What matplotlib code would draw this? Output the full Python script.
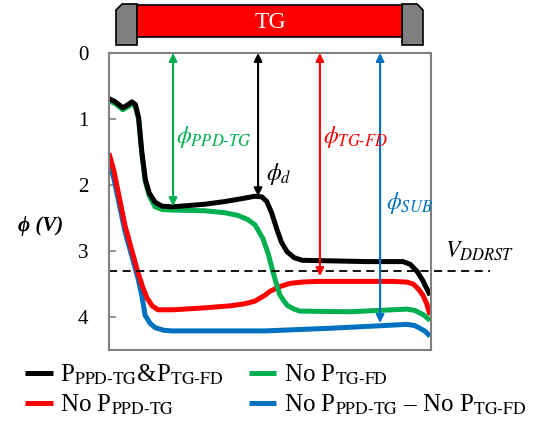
import numpy as np
import matplotlib.pyplot as plt
from matplotlib.patches import Polygon, Rectangle

plt.rcParams['font.family'] = ['Liberation Serif', 'DejaVu Serif']
plt.rcParams['mathtext.fontset'] = 'stix'

# position along the channel (arb. units, 0..100) and potential phi (V)
x_both = [0, 2, 4.3, 6, 7.1, 8.2, 9.2, 10.2, 11.3, 12.5, 14.3, 16.5, 19.6, 25, 30, 36, 42,
          45.3, 47.5, 49, 50.5, 52, 53.5, 55.3, 57.5, 60, 70, 80, 88, 91.3, 93.5, 95.7, 97.5, 99.7]
phi_both = [0.69, 0.74, 0.83, 0.78, 0.74, 0.78, 0.98, 1.5, 1.92, 2.12, 2.26, 2.32, 2.33, 2.31,
            2.29, 2.25, 2.2, 2.17, 2.18, 2.25, 2.42, 2.65, 2.86, 3.01, 3.1, 3.14, 3.15, 3.16, 3.16,
            3.16, 3.2, 3.31, 3.45, 3.67]

x_no_tgfd = [0, 2, 4.3, 6, 7.1, 8.2, 9.2, 10.2, 11.3, 12.5, 14.3, 16.5, 19.6, 29.8, 36, 40,
             43, 45.3, 47.8, 49.5, 50.9, 52, 53.1, 55.3, 57.5, 59.3, 74.8, 88, 92.5, 95, 97.5, 99.7]
phi_no_tgfd = [0.72, 0.77, 0.86, 0.81, 0.77, 0.81, 1.0, 1.52, 1.95, 2.16, 2.33, 2.37, 2.38, 2.39,
               2.42, 2.46, 2.52, 2.6, 2.81, 3.05, 3.31, 3.5, 3.67, 3.82, 3.88, 3.91, 3.92, 3.89,
               3.88, 3.9, 3.96, 4.05]

x_no_ppdtg = [0, 1.5, 5, 8.9, 10.5, 11.8, 13.4, 15.2, 20, 29.8, 37.6, 42, 45.3, 48.4, 50, 53,
              56.2, 60, 64.6, 74.8, 88, 92.5, 94.5, 96, 97.5, 98.7, 99.7]
phi_no_ppdtg = [1.52, 1.78, 2.62, 3.31, 3.55, 3.71, 3.83, 3.89, 3.89, 3.86, 3.83, 3.8, 3.76, 3.67,
                3.61, 3.54, 3.49, 3.47, 3.46, 3.46, 3.46, 3.47, 3.5, 3.57, 3.67, 3.8, 3.97]

x_no_both = [0, 1.5, 5, 9, 10.3, 11.2, 12.7, 14.3, 17, 19.6, 30, 48.4, 68.6, 85, 92.5, 95,
             96.6, 98.3, 99.7]
phi_no_both = [1.64, 1.9, 2.71, 3.41, 3.7, 3.97, 4.09, 4.16, 4.2, 4.21, 4.21, 4.21, 4.17, 4.13,
               4.11, 4.13, 4.17, 4.22, 4.29]

v_ddrst = 3.3

# potential barrier arrows: x position, end value
arrow_x = [19.9, 46.3, 65.5, 84.2]
arrow_end = [2.32, 2.17, 3.38, 4.09]
arrow_colors = ['#00B050', 'black', '#FF0000', '#0070C0']
arrow_labels = [r'$\phi_{PPD\text{-}TG}$', r'$\phi_d$', r'$\phi_{TG\text{-}FD}$', r'$\phi_{SUB}$']
label_pos = [(20.8, 1.28), (48.8, 1.83), (66.6, 1.28), (86.0, 2.27)]

labels = [r'P$_{\mathrm{PPD\text{-}TG}}$&P$_{\mathrm{TG\text{-}FD}}$',
          r'No P$_{\mathrm{PPD\text{-}TG}}$',
          r'No P$_{\mathrm{TG\text{-}FD}}$',
          r'No P$_{\mathrm{PPD\text{-}TG}}$ – No P$_{\mathrm{TG\text{-}FD}}$']

fig = plt.figure(figsize=(5.43, 4.29), dpi=100)
ax = fig.add_axes([0.2007, 0.184, 0.593, 0.6925])

lw = 3.6
l4, = ax.plot(x_no_both, phi_no_both, color='#0070C0', lw=lw, solid_capstyle='butt')
l2, = ax.plot(x_no_ppdtg, phi_no_ppdtg, color='#FF0000', lw=lw, solid_capstyle='butt')
l3, = ax.plot(x_no_tgfd, phi_no_tgfd, color='#00B050', lw=lw, solid_capstyle='butt')
l1, = ax.plot(x_both, phi_both, color='black', lw=lw, solid_capstyle='butt')

ax.plot([0, 118.3], [v_ddrst, v_ddrst], color='black', lw=1.3, dashes=(4.5, 3), clip_on=False)
ax.text(104.3, 3.0, r'$V_{DDRST}$', fontsize=17, va='center', ha='left')

for xa, ya, c in zip(arrow_x, arrow_end, arrow_colors):
    ax.annotate('', xy=(xa, ya), xytext=(xa, 0),
                arrowprops=dict(arrowstyle='<|-|>', color=c, lw=1.5, mutation_scale=12,
                                shrinkA=0, shrinkB=0))
for (xl, yl), s, c in zip(label_pos, arrow_labels, arrow_colors):
    ax.text(xl, yl, s, color=c, fontsize=17, va='center', ha='left')

ax.set_xlim(0, 100)
ax.set_ylim(4.5, 0)
ax.set_xticks([])
ax.set_yticks([0, 1, 2, 3, 4])
ax.tick_params(axis='y', direction='in', length=5, width=1.2, color='#808080',
               labelsize=15, pad=15)
for sp in ax.spines.values():
    sp.set_color('#808080')
    sp.set_linewidth(1.5)

fig.text(0.074, 0.473, 'ϕ (V)', fontsize=15, fontweight='bold', fontstyle='italic',
         ha='center', va='center')

fig.legend([l1, l2, l3, l4], labels, ncol=2, loc='center', bbox_to_anchor=(0.508, 0.091),
           frameon=False, fontsize=18, handlelength=1.1, handletextpad=0.3,
           columnspacing=1.0, labelspacing=0.22, borderpad=0)

# transfer gate sketch above the plot (pixel coords)
ov = fig.add_axes([0, 0, 1, 1])
ov.set_xlim(0, 543)
ov.set_ylim(429, 0)
ov.axis('off')
ov.patch.set_visible(False)
ov.add_patch(Polygon([(116, 45), (116, 10), (122, 4), (137, 4), (137, 45)], closed=True,
                     facecolor='#7F7F7F', edgecolor='black', lw=1.2))
ov.add_patch(Polygon([(402, 45), (402, 4), (417, 4), (423, 10), (423, 45)], closed=True,
                     facecolor='#7F7F7F', edgecolor='black', lw=1.2))
ov.add_patch(Rectangle((137, 5), 265, 32, facecolor='#FF0000', edgecolor='black', lw=1.2))
ov.text(270, 22, 'TG', color='white', fontsize=17, ha='center', va='center')

plt.savefig('out.png', dpi=100)
